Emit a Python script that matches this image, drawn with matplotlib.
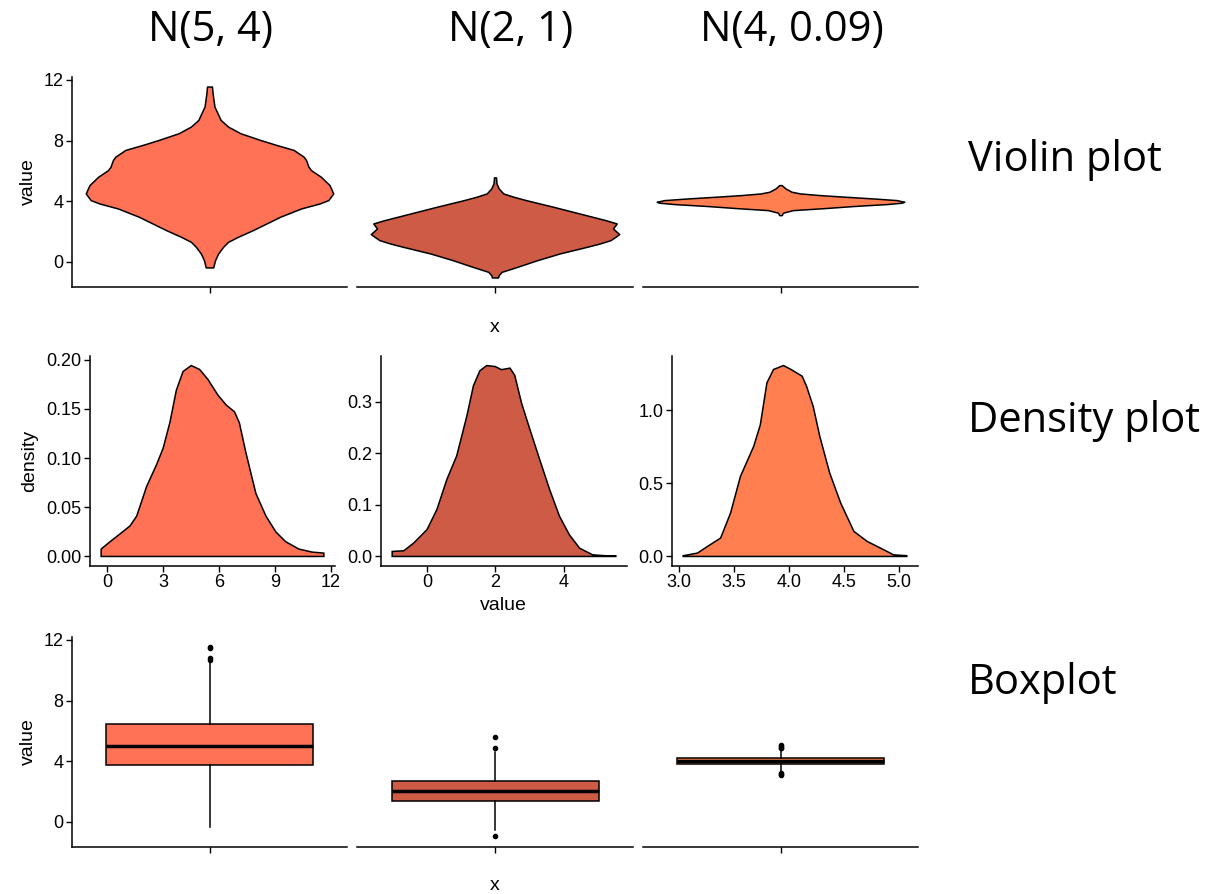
import numpy as np
import matplotlib.pyplot as plt

# colours of the three samples
cols = ['#FF7256', '#CD5B45', '#FF7F50']
titles = ['N(5, 4)', 'N(2, 1)', 'N(4, 0.09)']
rows = ['Violin plot', 'Density plot', 'Boxplot']

# violin outlines: value and relative half width
v1_y = [11.56, 11.12, 10.24, 9.36, 8.92, 8.48, 8.04, 7.71, 7.38, 6.94, 6.72, 6.27, 6.05, 5.61,
        5.06, 4.51, 4.07, 3.85, 3.52, 2.97, 2.53, 2.09, 1.65, 1.32, 0.99, 0.55, 0.11, -0.37]
v1_w = [0.02, 0.025, 0.04, 0.09, 0.15, 0.25, 0.41, 0.54, 0.68, 0.76, 0.78, 0.80, 0.82, 0.90,
        0.97, 1.0, 0.96, 0.89, 0.74, 0.57, 0.46, 0.35, 0.23, 0.15, 0.11, 0.07, 0.045, 0.03]
v2_y = [5.57, 5.17, 4.84, 4.51, 4.29, 4.07, 3.63, 3.19, 2.75, 2.53, 2.2, 1.83, 1.65, 1.43,
        1.2, 0.99, 0.55, 0.11, -0.33, -0.66, -0.88, -1.03]
v2_w = [0.008, 0.012, 0.03, 0.067, 0.15, 0.25, 0.47, 0.68, 0.89, 0.98, 0.95, 1.0, 0.97, 0.93,
        0.84, 0.74, 0.52, 0.34, 0.18, 0.054, 0.03, 0.025]
v3_y = [5.06, 4.84, 4.62, 4.51, 4.40, 4.29, 4.18, 4.07, 3.96, 3.90, 3.81, 3.68, 3.54, 3.41, 3.24, 3.08]
v3_w = [0.01, 0.04, 0.09, 0.16, 0.32, 0.53, 0.75, 0.94, 1.0, 0.98, 0.86, 0.59, 0.35, 0.1, 0.02, 0.01]

# density curves
d1_x = [-0.34, 0.14, 0.68, 1.21, 1.57, 2.1, 2.63, 2.99, 3.35, 3.7, 4.06, 4.5, 4.95, 5.39, 5.93,
        6.37, 6.82, 7.08, 7.44, 7.97, 8.51, 9.04, 9.57, 10.28, 11.0, 11.62]
d1_y = [0.0075, 0.015, 0.023, 0.031, 0.041, 0.071, 0.093, 0.110, 0.136, 0.169, 0.188, 0.194, 0.190,
        0.180, 0.164, 0.154, 0.147, 0.136, 0.105, 0.064, 0.041, 0.025, 0.015, 0.0075, 0.0044, 0.0034]
d2_x = [-1.02, -0.68, -0.39, 0.0, 0.29, 0.58, 0.87, 1.17, 1.36, 1.55, 1.75, 2.0, 2.18, 2.43, 2.57,
        2.77, 3.01, 3.3, 3.59, 3.88, 4.17, 4.47, 4.85, 5.24, 5.53]
d2_y = [0.0097, 0.011, 0.026, 0.052, 0.091, 0.149, 0.195, 0.273, 0.331, 0.36, 0.370, 0.368, 0.362,
        0.365, 0.351, 0.297, 0.247, 0.188, 0.13, 0.078, 0.042, 0.016, 0.0032, 0.0013, 0.0013]
d3_x = [3.04, 3.17, 3.26, 3.38, 3.47, 3.56, 3.68, 3.74, 3.8, 3.86, 3.95, 4.01, 4.12, 4.16, 4.22,
        4.28, 4.37, 4.47, 4.59, 4.71, 4.86, 4.95, 5.07]
d3_y = [0.005, 0.023, 0.068, 0.126, 0.297, 0.548, 0.753, 0.90, 1.187, 1.279, 1.306, 1.283, 1.233,
        1.164, 1.027, 0.822, 0.571, 0.365, 0.171, 0.103, 0.046, 0.011, 0.005]

# boxplot statistics
q1 = [3.72, 1.37, 3.81]
med = [5.0, 2.03, 4.03]
q3 = [6.47, 2.69, 4.23]
whislo = [-0.33, -0.55, 3.25]
whishi = [10.46, 4.58, 4.78]
fliers = [[10.7, 10.8, 11.45, 11.55], [-0.95, 4.89, 5.57], [3.08, 3.15, 3.2, 4.85, 4.9, 5.0, 5.06]]

dens_ticks = [[0, 3, 6, 9, 12], [0, 2, 4], [3.0, 3.5, 4.0, 4.5, 5.0]]
dens_yticks = [[0.0, 0.05, 0.10, 0.15, 0.20], [0.0, 0.1, 0.2, 0.3], [0.0, 0.5, 1.0]]
dens_yfmt = ['{:.2f}', '{:.1f}', '{:.1f}']
dens_xfmt = ['{:.0f}', '{:.0f}', '{:.1f}']

W, H = 1212, 894
fig = plt.figure(figsize=(W / 100, H / 100), dpi=100)
tick_font = 'Liberation Sans'
big_font = 'Open Sans'


def add(l, t, r, b):
    return fig.add_axes([l / W, 1 - b / H, (r - l) / W, (b - t) / H])


def style(ax, left=True):
    for s in ['top', 'right']:
        ax.spines[s].set_visible(False)
    ax.spines['left'].set_visible(left)
    for s in ['left', 'bottom']:
        ax.spines[s].set_linewidth(1.1)
    ax.tick_params(length=4, width=1, labelsize=13, colors='black', pad=2)
    for lab in ax.get_xticklabels() + ax.get_yticklabels():
        lab.set_family(tick_font)
    if not left:
        ax.tick_params(axis='y', left=False, labelleft=False)


xspans = [(72, 347), (357, 633), (643, 918)]
vy = [v1_y, v2_y, v3_y]
vw = [v1_w, v2_w, v3_w]
dx = [d1_x, d2_x, d3_x]
dy = [d1_y, d2_y, d3_y]
dspans = [(90, 335), (381, 627), (672, 918)]

for i in range(3):
    # violin
    ax = add(xspans[i][0], 77, xspans[i][1], 287)
    w = np.array(vw[i]) * 0.54
    ax.fill_betweenx(vy[i], -w, w, facecolor=cols[i], edgecolor='black', linewidth=1.1)
    ax.set_xlim(-0.6, 0.6)
    ax.set_ylim(-1.66, 12.19)
    ax.set_xticks([0])
    ax.set_xticklabels([])
    ax.set_yticks([0, 4, 8, 12])
    style(ax, left=(i == 0))

    # density
    ax = add(dspans[i][0], 356, dspans[i][1], 566)
    xs = [dx[i][0]] + list(dx[i]) + [dx[i][-1]]
    ys = [0] + list(dy[i]) + [0]
    ax.fill(xs, ys, facecolor=cols[i], edgecolor='black', linewidth=1.1)
    rng = dx[i][-1] - dx[i][0]
    ax.set_xlim(dx[i][0] - 0.05 * rng, dx[i][-1] + 0.05 * rng)
    top = max(dy[i])
    ax.set_ylim(-0.05 * top, 1.05 * top)
    ax.set_xticks(dens_ticks[i])
    ax.set_xticklabels([dens_xfmt[i].format(t) for t in dens_ticks[i]])
    ax.set_yticks(dens_yticks[i])
    ax.set_yticklabels([dens_yfmt[i].format(t) for t in dens_yticks[i]])
    style(ax)

    # boxplot
    ax = add(xspans[i][0], 637, xspans[i][1], 847)
    st = [dict(med=med[i], q1=q1[i], q3=q3[i], whislo=whislo[i], whishi=whishi[i], fliers=fliers[i])]
    ax.bxp(st, positions=[0], widths=0.9, patch_artist=True, showcaps=False,
           boxprops=dict(facecolor=cols[i], edgecolor='black', linewidth=1.1),
           medianprops=dict(color='black', linewidth=2.5),
           whiskerprops=dict(color='black', linewidth=1.1),
           flierprops=dict(marker='o', markersize=3, markerfacecolor='black', markeredgecolor='black'))
    ax.set_xlim(-0.6, 0.6)
    ax.set_ylim(-1.66, 12.19)
    ax.set_xticks([0])
    ax.set_xticklabels([])
    ax.set_yticks([0, 4, 8, 12])
    style(ax, left=(i == 0))

# axis titles
def ftext(x, y, s, **kw):
    fig.text(x / W, 1 - y / H, s, ha='center', va='center', **kw)


ftext(28, 182, 'value', rotation=90, fontsize=14, family=tick_font)
ftext(495, 328, 'x', fontsize=14, family=tick_font)
ftext(30, 461, 'density', rotation=90, fontsize=14, family=tick_font)
ftext(503, 606, 'value', fontsize=14, family=tick_font)
ftext(28, 742, 'value', rotation=90, fontsize=14, family=tick_font)
ftext(495, 886, 'x', fontsize=14, family=tick_font)

for x, t in zip([211, 511, 792], titles):
    ftext(x, 30, t, fontsize=30, family=big_font)
for y, t in zip([160, 421, 683], rows):
    fig.text(968 / W, 1 - y / H, t, ha='left', va='center', fontsize=30, family=big_font)

fig.savefig('out.png', dpi=100)
